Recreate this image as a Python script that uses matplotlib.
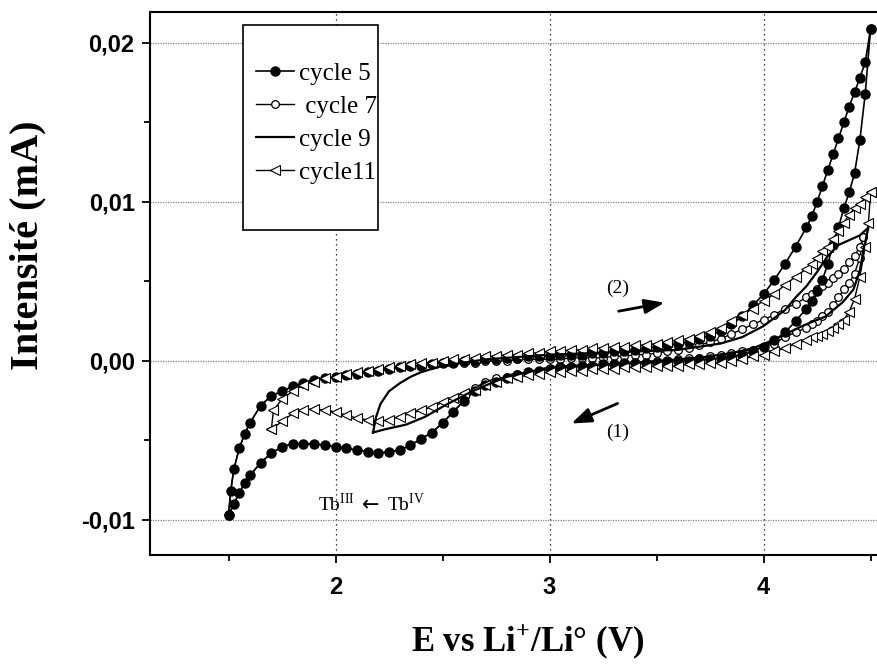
import matplotlib
matplotlib.use("Agg")
import matplotlib.pyplot as plt
from matplotlib.patches import Rectangle

# === Data (E in V, I in mA) ===
# cycle 5 : reduction sweep 4.5 -> 1.5 V
c5_rev_E = [4.50, 4.475, 4.45, 4.425, 4.40, 4.375, 4.35, 4.325, 4.30, 4.275, 4.25, 4.225,
            4.20, 4.15, 4.10, 4.05, 4.00, 3.95, 3.90, 3.85, 3.80, 3.75, 3.70, 3.65, 3.60,
            3.55, 3.50, 3.45, 3.40, 3.35, 3.30, 3.25, 3.20, 3.15, 3.10, 3.05, 3.00, 2.95,
            2.90, 2.85, 2.80, 2.75, 2.70, 2.65, 2.60, 2.55, 2.50, 2.45, 2.40, 2.35, 2.30,
            2.25, 2.20, 2.15, 2.10, 2.05, 2.00, 1.95, 1.90, 1.85, 1.80, 1.75, 1.70, 1.65,
            1.60, 1.575, 1.55, 1.525, 1.50]
c5_rev_I = [0.0209, 0.0168, 0.0139, 0.0118, 0.0106, 0.0096, 0.0084, 0.0073, 0.0061, 0.0051,
            0.0044, 0.0038, 0.0033, 0.0025, 0.0018, 0.0013, 0.0009, 0.0006, 0.0004, 0.0003,
            0.0002, 0.0001, 0.0001, 0.0000, 0.0000, 0.0000, -0.0001, -0.0001, -0.0001,
            -0.0001, -0.0002, -0.0002, -0.0003, -0.0003, -0.0004, -0.0004, -0.0005, -0.0006,
            -0.0007, -0.0009, -0.0011, -0.0013, -0.0015, -0.0019, -0.0025, -0.0032, -0.0039,
            -0.0045, -0.0049, -0.0053, -0.0056, -0.0057, -0.0058, -0.0057, -0.0056, -0.0055,
            -0.0054, -0.0053, -0.0052, -0.0052, -0.0052, -0.0054, -0.0058, -0.0064, -0.0072,
            -0.0077, -0.0083, -0.0090, -0.0097]
# cycle 5 : oxidation sweep 1.5 -> 4.5 V
c5_fwd_E = [1.50, 1.51, 1.525, 1.55, 1.575, 1.60, 1.65, 1.70, 1.75, 1.80, 1.85, 1.90, 1.95,
            2.00, 2.05, 2.10, 2.15, 2.20, 2.25, 2.30, 2.35, 2.40, 2.45, 2.50, 2.55, 2.60,
            2.65, 2.70, 2.75, 2.80, 2.85, 2.90, 2.95, 3.00, 3.05, 3.10, 3.15, 3.20, 3.25,
            3.30, 3.35, 3.40, 3.45, 3.50, 3.55, 3.60, 3.65, 3.70, 3.75, 3.80, 3.85, 3.90,
            3.95, 4.00, 4.05, 4.10, 4.15, 4.20, 4.225, 4.25, 4.275, 4.30, 4.325, 4.35,
            4.375, 4.40, 4.425, 4.45, 4.475, 4.50]
c5_fwd_I = [-0.0097, -0.0082, -0.0068, -0.0055, -0.0046, -0.0039, -0.0028, -0.0022, -0.0019,
            -0.0016, -0.0014, -0.0012, -0.0011, -0.0010, -0.0009, -0.0008, -0.0007, -0.0006,
            -0.0005, -0.0004, -0.0003, -0.0003, -0.0002, -0.0001, -0.0001, 0.0000, 0.0000,
            0.0001, 0.0001, 0.0002, 0.0002, 0.0003, 0.0003, 0.0003, 0.0004, 0.0004, 0.0004,
            0.0005, 0.0005, 0.0006, 0.0006, 0.0007, 0.0008, 0.0009, 0.0010, 0.0011, 0.0012,
            0.0014, 0.0016, 0.0019, 0.0023, 0.0028, 0.0035, 0.0042, 0.0051, 0.0061, 0.0072,
            0.0084, 0.0091, 0.0100, 0.0110, 0.0120, 0.0130, 0.0140, 0.0150, 0.0160, 0.0169,
            0.0178, 0.0188, 0.0209]

# cycle 7 (below 2.6 V it runs under the cycle 5 trace)
c7_rev_E = [4.465, 4.45, 4.425, 4.40, 4.375, 4.35, 4.325, 4.30, 4.275, 4.25, 4.225, 4.20,
            4.15, 4.10, 4.05, 4.00, 3.95, 3.90, 3.85, 3.80, 3.75, 3.70, 3.65, 3.60, 3.55,
            3.50, 3.45, 3.40, 3.35, 3.30, 3.25, 3.20, 3.15, 3.10, 3.05, 3.00, 2.95, 2.90,
            2.85, 2.80, 2.75, 2.70, 2.65, 2.60, 2.55, 2.50, 2.45, 2.40, 2.35, 2.30, 2.25,
            2.20, 2.15, 2.10, 2.05, 2.00, 1.95, 1.90, 1.85, 1.80, 1.75, 1.70, 1.65, 1.60,
            1.575, 1.55, 1.525, 1.50]
c7_rev_I = [0.0078, 0.0065, 0.0055, 0.0049, 0.0045, 0.0040, 0.0035, 0.0031, 0.0028, 0.0025,
            0.0023, 0.0021, 0.0018, 0.0015, 0.0011, 0.0009, 0.0007, 0.0006, 0.0005, 0.0004,
            0.0003, 0.0002, 0.0002, 0.0001, 0.0000, 0.0000, -0.0001, -0.0001, -0.0001,
            -0.0002, -0.0002, -0.0003, -0.0003, -0.0004, -0.0004, -0.0005, -0.0006, -0.0007,
            -0.0008, -0.0010, -0.0011, -0.0013, -0.0017, -0.0025, -0.0032, -0.0039, -0.0045,
            -0.0049, -0.0053, -0.0056, -0.0057, -0.0058, -0.0057, -0.0056, -0.0055, -0.0054,
            -0.0053, -0.0052, -0.0052, -0.0052, -0.0054, -0.0058, -0.0064, -0.0072, -0.0077,
            -0.0083, -0.0090, -0.0097]
c7_fwd_E = [1.50, 1.51, 1.525, 1.55, 1.575, 1.60, 1.65, 1.70, 1.75, 1.80, 1.85, 1.90, 1.95,
            2.00, 2.05, 2.10, 2.15, 2.20, 2.25, 2.30, 2.35, 2.40, 2.45, 2.50, 2.55, 2.60,
            2.65, 2.70, 2.75, 2.80, 2.85, 2.90, 2.95, 3.00, 3.05, 3.10, 3.15, 3.20, 3.25,
            3.30, 3.35, 3.40, 3.45, 3.50, 3.55, 3.60, 3.65, 3.70, 3.75, 3.80, 3.85, 3.90,
            3.95, 4.00, 4.05, 4.10, 4.15, 4.20, 4.225, 4.25, 4.275, 4.30, 4.325, 4.35,
            4.375, 4.40, 4.425, 4.45, 4.465]
c7_fwd_I = [-0.0097, -0.0082, -0.0068, -0.0055, -0.0046, -0.0039, -0.0028, -0.0022, -0.0019,
            -0.0016, -0.0014, -0.0012, -0.0011, -0.0010, -0.0009, -0.0008, -0.0007, -0.0006,
            -0.0005, -0.0004, -0.0003, -0.0003, -0.0002, -0.0001, -0.0001, -0.0001, -0.0001,
            0.0000, 0.0000, 0.0000, 0.0001, 0.0001, 0.0001, 0.0001, 0.0001, 0.0002, 0.0002,
            0.0002, 0.0002, 0.0003, 0.0003, 0.0004, 0.0004, 0.0005, 0.0006, 0.0007, 0.0008,
            0.0010, 0.0012, 0.0014, 0.0017, 0.0020, 0.0023, 0.0026, 0.0029, 0.0033, 0.0036,
            0.0040, 0.0042, 0.0045, 0.0047, 0.0049, 0.0052, 0.0055, 0.0058, 0.0062, 0.0066,
            0.0072, 0.0078]

# cycle 9 (plain line, window 2.175 - 4.49 V)
c9_fwd_E = [2.175, 2.19, 2.21, 2.25, 2.30, 2.35, 2.40, 2.45, 2.50, 2.60, 2.70, 2.80, 2.90,
            3.00, 3.20, 3.40, 3.60, 3.70, 3.80, 3.90, 4.00, 4.05, 4.10, 4.15, 4.20, 4.25,
            4.30, 4.35, 4.40, 4.45, 4.49]
c9_fwd_I = [-0.0045, -0.0035, -0.0027, -0.0019, -0.0014, -0.0010, -0.0007, -0.0005, -0.0003,
            -0.0001, 0.0001, 0.0002, 0.0003, 0.0004, 0.0005, 0.0006, 0.0007, 0.0009, 0.0011,
            0.0015, 0.0022, 0.0027, 0.0032, 0.0040, 0.0047, 0.0056, 0.0066, 0.0073, 0.0076,
            0.0079, 0.0084]
c9_rev_E = [4.49, 4.47, 4.45, 4.42, 4.37, 4.29, 4.18, 4.06, 3.95, 3.85, 3.70, 3.50, 3.30,
            3.10, 3.00, 2.90, 2.80, 2.69, 2.61, 2.51, 2.42, 2.33, 2.23, 2.175]
c9_rev_I = [0.0084, 0.0072, 0.0057, 0.0045, 0.0037, 0.0028, 0.0022, 0.0014, 0.0008, 0.0005,
            0.0002, 0.0000, -0.0002, -0.0003, -0.0004, -0.0007, -0.0010, -0.0016, -0.0021,
            -0.0028, -0.0035, -0.0040, -0.0043, -0.0045]

# cycle 11 (window 1.70 - 4.50 V)
c11_rev_E = [4.50, 4.49, 4.475, 4.45, 4.425, 4.40, 4.375, 4.35, 4.325, 4.30, 4.275, 4.25,
             4.225, 4.20, 4.15, 4.10, 4.05, 4.00, 3.95, 3.90, 3.85, 3.80, 3.75, 3.70, 3.65,
             3.60, 3.55, 3.50, 3.45, 3.40, 3.35, 3.30, 3.25, 3.20, 3.15, 3.10, 3.05, 3.00,
             2.95, 2.90, 2.85, 2.80, 2.75, 2.70, 2.65, 2.60, 2.55, 2.50, 2.45, 2.40, 2.35,
             2.30, 2.25, 2.20, 2.15, 2.10, 2.05, 2.00, 1.95, 1.90, 1.85, 1.80, 1.75, 1.70]
c11_rev_I = [0.0106, 0.0087, 0.0072, 0.0053, 0.0039, 0.0031, 0.0026, 0.0023, 0.0021, 0.0019,
             0.0017, 0.0016, 0.0015, 0.0013, 0.0011, 0.0008, 0.0006, 0.0004, 0.0003, 0.0001,
             0.0000, -0.0001, -0.0001, -0.0002, -0.0002, -0.0003, -0.0003, -0.0003, -0.0004,
             -0.0004, -0.0004, -0.0005, -0.0005, -0.0005, -0.0006, -0.0006, -0.0007, -0.0007,
             -0.0008, -0.0009, -0.0010, -0.0011, -0.0013, -0.0015, -0.0018, -0.0020, -0.0023,
             -0.0026, -0.0029, -0.0031, -0.0033, -0.0035, -0.0037, -0.0038, -0.0037, -0.0036,
             -0.0034, -0.0032, -0.0031, -0.0030, -0.0031, -0.0033, -0.0038, -0.0043]
c11_fwd_E = [1.70, 1.71, 1.75, 1.80, 1.85, 1.90, 1.95, 2.00, 2.05, 2.10, 2.15, 2.20, 2.25,
             2.30, 2.35, 2.40, 2.45, 2.50, 2.55, 2.60, 2.65, 2.70, 2.75, 2.80, 2.85, 2.90,
             2.95, 3.00, 3.05, 3.10, 3.15, 3.20, 3.25, 3.30, 3.35, 3.40, 3.45, 3.50, 3.55,
             3.60, 3.65, 3.70, 3.75, 3.80, 3.85, 3.90, 3.95, 4.00, 4.05, 4.10, 4.15, 4.20,
             4.225, 4.25, 4.275, 4.30, 4.325, 4.35, 4.375, 4.40, 4.425, 4.45, 4.475, 4.50]
c11_fwd_I = [-0.0043, -0.0031, -0.0024, -0.0019, -0.0015, -0.0013, -0.0011, -0.0010, -0.0008,
             -0.0007, -0.0006, -0.0005, -0.0004, -0.0003, -0.0002, -0.0001, -0.0001, 0.0000,
             0.0001, 0.0001, 0.0002, 0.0003, 0.0003, 0.0004, 0.0004, 0.0005, 0.0005, 0.0006,
             0.0006, 0.0007, 0.0007, 0.0008, 0.0008, 0.0009, 0.0009, 0.0010, 0.0010, 0.0011,
             0.0012, 0.0013, 0.0014, 0.0016, 0.0018, 0.0021, 0.0025, 0.0029, 0.0033, 0.0038,
             0.0042, 0.0048, 0.0053, 0.0058, 0.0061, 0.0065, 0.0069, 0.0072, 0.0077, 0.0082,
             0.0087, 0.0092, 0.0096, 0.0099, 0.0103, 0.0106]

cycle_labels = ["cycle 5", " cycle 7", "cycle 9", "cycle11"]
x_ticks = [2, 3, 4]
y_ticks = [-0.01, 0.0, 0.01, 0.02]
y_tick_labels = ["-0,01", "0,00", "0,01", "0,02"]

SERIF = ["Liberation Serif", "DejaVu Serif"]
SANS = ["Liberation Sans", "DejaVu Sans"]


def plot_voltammogram():
    plt.rcParams["mathtext.fontset"] = "custom"
    plt.rcParams["mathtext.rm"] = "Liberation Serif"
    plt.rcParams["mathtext.bf"] = "Liberation Serif:bold"

    fig = plt.figure(figsize=(8.77, 6.66), dpi=100)
    ax = fig.add_axes([0.171, 0.1667, 0.829, 0.8153])

    # cycle 7 sits under cycle 5 where they overlap
    ax.plot(c5_rev_E + c5_fwd_E, c5_rev_I + c5_fwd_I, color="black", lw=1.2,
            marker="o", ms=6.5, mfc="black", mec="black", label=cycle_labels[0], zorder=4)
    ax.plot(c7_rev_E + c7_fwd_E, c7_rev_I + c7_fwd_I, color="black", lw=1.0,
            marker="o", ms=5.5, mfc="white", mec="black", mew=0.9, label=cycle_labels[1], zorder=3)
    ax.plot(c9_fwd_E + c9_rev_E, c9_fwd_I + c9_rev_I, color="black", lw=1.6,
            label=cycle_labels[2], zorder=5)
    ax.plot(c11_rev_E + c11_fwd_E, c11_rev_I + c11_fwd_I, color="black", lw=1.0,
            marker="<", ms=7.5, mfc="white", mec="black", mew=0.8, label=cycle_labels[3], zorder=4.5)

    ax.set_xlim(1.133, 4.53)
    ax.set_ylim(-0.0122, 0.02195)

    ax.set_xticks(x_ticks)
    ax.set_xticks([1.5, 2.5, 3.5, 4.5], minor=True)
    ax.set_yticks(y_ticks)
    ax.set_yticklabels(y_tick_labels)
    ax.set_yticks([-0.005, 0.005, 0.015], minor=True)
    ax.tick_params(which="major", direction="out", length=6, width=1.3)
    ax.tick_params(axis="x", which="major", pad=9)
    ax.tick_params(axis="y", which="major", pad=5)
    ax.tick_params(which="minor", direction="out", length=4, width=1.3)
    for lab in ax.get_xticklabels() + ax.get_yticklabels():
        lab.set_family(SANS)
        lab.set_fontweight("bold")
        lab.set_fontsize(17)

    ax.xaxis.grid(True, linestyle=(0, (1, 3)), color="black", lw=0.9)
    ax.yaxis.grid(True, linestyle=(0, (1, 1)), color="grey", lw=0.9)
    ax.set_axisbelow(True)

    for side in ["left", "bottom", "top"]:
        ax.spines[side].set_linewidth(1.5)
    ax.spines["right"].set_visible(False)

    ax.set_xlabel("E vs Li$^{\\mathbf{+}}$/Li\u00b0 (V)", family=SERIF, fontweight="bold", fontsize=25)
    ax.xaxis.set_label_coords(0.519, -0.123)
    ax.set_ylabel("Intensit\u00e9 (mA)", family=SERIF, fontweight="bold", fontsize=29)
    ax.yaxis.set_label_coords(-0.143, 0.571)

    # legend box is drawn separately, it is much taller than its entries
    ax.add_patch(Rectangle((0.128, 0.5985), 0.186, 0.378, transform=ax.transAxes,
                           fill=True, facecolor="white", edgecolor="black", lw=1.2, zorder=6))
    leg = ax.legend(loc="upper left", bbox_to_anchor=(0.122, 0.94), frameon=False,
                    prop={"family": SERIF, "size": 18}, handlelength=1.5, handletextpad=0.2,
                    labelspacing=0.42, borderpad=0.2)
    leg.set_zorder(7)

    # sweep direction arrows and labels
    ax.annotate("", xy=(3.55, 0.0037), xytext=(3.31, 0.0031),
                arrowprops=dict(arrowstyle="-|>,head_length=0.6,head_width=0.22",
                                color="black", lw=2, mutation_scale=20))
    ax.annotate("", xy=(3.09, -0.0040), xytext=(3.33, -0.0026),
                arrowprops=dict(arrowstyle="-|>,head_length=0.6,head_width=0.22",
                                color="black", lw=2, mutation_scale=20))
    ax.text(3.32, 0.0046, "(2)", family=SERIF, fontsize=14, ha="center", va="center")
    ax.text(3.32, -0.0045, "(1)", family=SERIF, fontsize=14, ha="center", va="center")

    # Tb(III) <- Tb(IV), the arrow glyph taken from DejaVu for a longer arrow
    ax.text(2.09, -0.0090, "Tb$^{\\mathrm{III}}$", family=SERIF, fontsize=14,
            ha="right", va="center")
    ax.text(2.165, -0.0091, "\u2190", family=["DejaVu Sans"], fontsize=15,
            ha="center", va="center")
    ax.text(2.24, -0.0090, "Tb$^{\\mathrm{IV}}$", family=SERIF, fontsize=14,
            ha="left", va="center")

    fig.savefig("out.png", dpi=100)


def main():
    plot_voltammogram()


if __name__ == "__main__":
    main()
